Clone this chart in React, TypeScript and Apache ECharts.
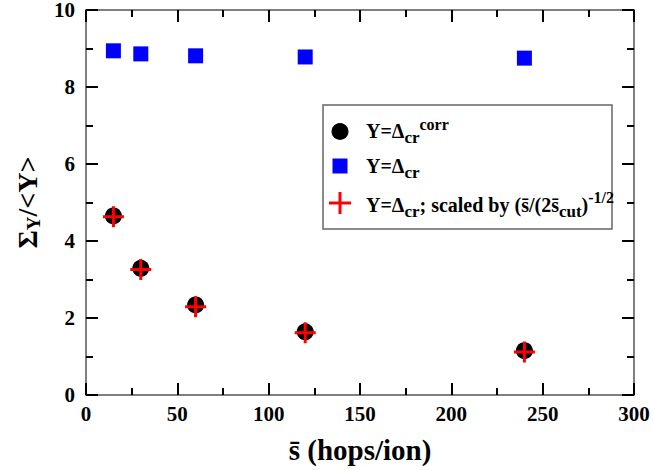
import React, { useEffect, useRef } from 'react';
import * as echarts from 'echarts';

const FONT = 'Liberation Serif';

// data
const sBar = [15, 30, 60, 120, 240];
const deltaCr = [8.94, 8.86, 8.81, 8.78, 8.75];
const deltaCorr = [4.65, 3.29, 2.34, 1.64, 1.15];
const deltaScaled = [4.63, 3.26, 2.29, 1.62, 1.12];

const xMin = 0, xMax = 300, xInterval = 50;
const yMin = 0, yMax = 10, yInterval = 2;

const PLUS = 'path://M9,0H12V9H21V12H12V21H9V12H0V9H9Z';

const pairs = (ys: number[]) => sBar.map((x, i) => [x, ys[i]]);

const axisCommon = {
  type: 'value' as const,
  axisLine: { show: true, onZero: false, lineStyle: { color: '#555', width: 1.5 } },
  axisTick: { show: true, inside: true, length: 12, lineStyle: { color: '#000', width: 2 } },
  minorTick: { show: true, splitNumber: 2, length: 7, lineStyle: { color: '#000', width: 2 } },
  splitLine: { show: false },
  minorSplitLine: { show: false },
};

const labelStyle = { fontSize: 21, fontWeight: 'bold' as const, fontFamily: FONT, color: '#000' };

export default function App() {
  const ref = useRef<HTMLDivElement>(null);
  useEffect(() => {
    if (!ref.current) return;
    const chart = echarts.init(ref.current, undefined, { renderer: 'svg' });
    const richMain = { fontSize: 20, fontWeight: 'bold', fontFamily: FONT, lineHeight: 30, fill: '#000', color: '#000' };
    const richSub = { fontSize: 17, fontWeight: 'bold', fontFamily: FONT, lineHeight: 11, verticalAlign: 'bottom', fill: '#000', color: '#000' };
    const richSup = { fontSize: 16, fontWeight: 'bold', fontFamily: FONT, lineHeight: 9, verticalAlign: 'top', fill: '#000', color: '#000' };
    const rich = { m: richMain, sub: richSub, sup: richSup };
    chart.setOption({
      animation: false,
      backgroundColor: '#fff',
      textStyle: { fontFamily: FONT },
      grid: { left: 86, right: 19, top: 10, bottom: 75, outerBoundsMode: 'none' },
      xAxis: [
        {
          ...axisCommon,
          position: 'bottom',
          min: xMin, max: xMax, interval: xInterval,
          axisLabel: { ...labelStyle, margin: 8 },
          name: 's\u0304 (hops/ion)',
          nameLocation: 'middle',
          nameGap: 40,
          nameTextStyle: { fontSize: 29, fontWeight: 'bold', fontFamily: FONT, color: '#000' },
        },
        {
          ...axisCommon,
          position: 'top',
          min: xMin, max: xMax, interval: xInterval,
          axisLabel: { show: false },
        },
      ],
      yAxis: [
        {
          ...axisCommon,
          position: 'left',
          min: yMin, max: yMax, interval: yInterval,
          axisLabel: { ...labelStyle, margin: 11 },
          name: '{m|\u03A3}{s|Y}{m|/<Y>}',
          nameLocation: 'middle',
          nameGap: 42,
          nameTextStyle: {
            rich: {
              m: { fontSize: 28, fontWeight: 'bold', fontFamily: FONT, color: '#000', lineHeight: 32 },
              s: { fontSize: 19, fontWeight: 'bold', fontFamily: FONT, color: '#000', lineHeight: 14, verticalAlign: 'bottom' },
            },
          },
        },
        {
          ...axisCommon,
          position: 'right',
          min: yMin, max: yMax, interval: yInterval,
          axisLabel: { show: false },
        },
      ],
      series: [
        { name: 'Y=Δcr', type: 'scatter', data: pairs(deltaCr), symbol: 'rect', symbolSize: 15, itemStyle: { color: '#0000ff', opacity: 1 }, z: 2 },
        { name: 'Y=Δcr corr', type: 'scatter', data: pairs(deltaCorr), symbol: 'circle', symbolSize: 17, itemStyle: { color: '#000', opacity: 1 }, z: 3 },
        { name: 'scaled', type: 'scatter', data: pairs(deltaScaled), symbol: PLUS, symbolSize: 21, itemStyle: { color: '#ff0000', opacity: 1 }, z: 4 },
      ],
      graphic: [
        { type: 'rect', z: 10, shape: { x: 323, y: 105, width: 289, height: 124 }, style: { fill: '#fff', stroke: '#666', lineWidth: 1.5 } },
        { type: 'circle', z: 11, shape: { cx: 340, cy: 131.5, r: 8.5 }, style: { fill: '#000' } },
        { type: 'rect', z: 11, shape: { x: 332.5, y: 158.5, width: 15, height: 15 }, style: { fill: '#0000ff' } },
        { type: 'rect', z: 11, shape: { x: 329, y: 201.5, width: 22, height: 3 }, style: { fill: '#ff0000' } },
        { type: 'rect', z: 11, shape: { x: 338.5, y: 192, width: 3, height: 22 }, style: { fill: '#ff0000' } },
        { type: 'text', z: 11, x: 366, y: 131, style: { text: '{m|Y=\u0394}{sub|cr}{sup|corr}', rich, font: `bold 20px ${FONT}`, align: 'left', verticalAlign: 'middle' } },
        { type: 'text', z: 11, x: 366, y: 165.5, style: { text: '{m|Y=\u0394}{sub|cr}', rich, font: `bold 20px ${FONT}`, align: 'left', verticalAlign: 'middle' } },
        { type: 'text', z: 11, x: 366, y: 204.5, style: { text: '{m|Y=\u0394}{sub|cr}{m|; scaled by (s\u0304/(2s\u0304}{sub|cut}{m|)}{sup|-1/2}', rich, font: `bold 20px ${FONT}`, align: 'left', verticalAlign: 'middle' } },
      ],
    });
    return () => chart.dispose();
  }, []);
  return <div ref={ref} style={{ width: 653, height: 470, position: 'absolute', left: 0, top: 0 }} />;
}
